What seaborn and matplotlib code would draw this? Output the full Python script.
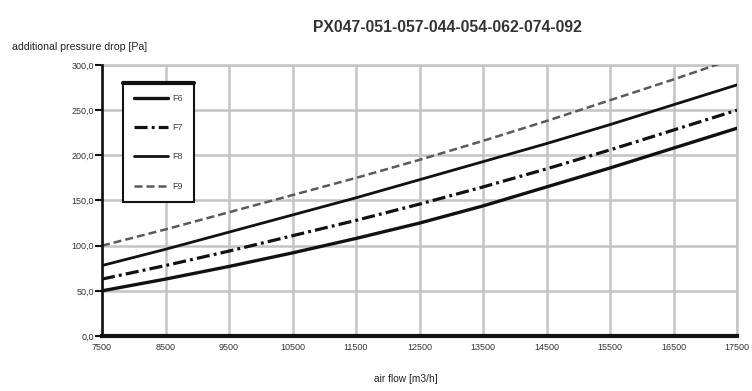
import matplotlib
matplotlib.use("Agg")
import matplotlib.pyplot as plt
import seaborn as sns
import numpy as np
from matplotlib.ticker import FuncFormatter, MultipleLocator
from matplotlib.lines import Line2D

# ---- data ----
air_flow = [7500, 8500, 9500, 10500, 11500, 12500, 13500, 14500, 15500, 16500, 17500]
f6 = [50, 63, 77, 92, 108, 125, 144, 165, 186, 208, 230]
f7 = [63, 78, 94, 111, 128, 146, 165, 185, 206, 228, 250]
f8 = [78, 96, 115, 134, 153, 173, 193, 213, 234, 256, 278]
f9 = [100, 118, 137, 156, 175, 195, 216, 238, 261, 284, 308]
series_labels = ["F6", "F7", "F8", "F9"]
x_ticks = [7500, 8500, 9500, 10500, 11500, 12500, 13500, 14500, 15500, 16500, 17500]
title = "PX047-051-057-044-054-062-074-092"
y_label = "additional pressure drop [Pa]"
x_label = "air flow [m3/h]"

sns.set_theme(style="white")
plt.rcParams['font.family'] = ['Liberation Sans', 'DejaVu Sans']

fig = plt.figure(figsize=(7.52, 3.91), dpi=100)
ax = fig.add_axes([102/752, 1-336/391, (737-102)/752, (336-65)/391])

styles = [
    dict(color="#111111", lw=2.4, ls="-"),
    dict(color="#111111", lw=2.3, ls=(0, (4.1, 1.3, 0.9, 1.3))),
    dict(color="#111111", lw=2.0, ls="-"),
    dict(color="#5a5a5a", lw=1.8, ls=(0, (3.2, 1.6))),
]
for vals, lab, st in zip([f6, f7, f8, f9], series_labels, styles):
    sns.lineplot(x=air_flow, y=vals, ax=ax, label=lab, color=st["color"],
                 linewidth=st["lw"], linestyle=st["ls"], zorder=3)

ax.set_xlim(7500, 17500)
ax.set_ylim(0, 300)
ax.set_xticks(x_ticks)
ax.yaxis.set_major_locator(MultipleLocator(50))
ax.yaxis.set_major_formatter(FuncFormatter(lambda v, p: f"{v:.1f}".replace(".", ",")))
ax.grid(True, color="#c4c4c4", linewidth=1.8, zorder=0)
ax.set_axisbelow(True)

for s in ["top", "right"]:
    ax.spines[s].set_color("#c4c4c4")
    ax.spines[s].set_linewidth(1.8)
ax.spines["left"].set_color("#111111")
ax.spines["left"].set_linewidth(1.9)
ax.spines["bottom"].set_color("#111111")
ax.spines["bottom"].set_linewidth(3.0)
ax.spines["left"].set_zorder(4)
ax.spines["bottom"].set_zorder(4)

ax.tick_params(axis="y", which="major", length=5, width=1.5, color="#111111",
               direction="out", labelsize=6.5, pad=1, labelcolor="#333333", left=True)
ax.tick_params(axis="x", which="major", length=0, labelsize=6.5, pad=5,
               labelcolor="#333333", bottom=True)

ax.set_xlabel("")
ax.set_ylabel("")
fig.text(447/752, 1-27/391, title, ha="center", va="center", fontsize=11.3,
         fontweight="bold", color="#333333")
fig.text(12/752, 1-47/391, y_label, ha="left", va="center", fontsize=7.6, color="#222222")
fig.text(406/752, 1-379/391, x_label, ha="center", va="center", fontsize=7.3, color="#222222")

leg = ax.legend(loc="upper left", bbox_to_anchor=((123-102)/635, (336-83)/271),
                borderaxespad=0, frameon=True, fancybox=False, fontsize=6.5,
                handlelength=3.8, handletextpad=0.5, labelspacing=2.25,
                borderpad=1.2, edgecolor="#111111", framealpha=1)
leg.get_frame().set_linewidth(1.5)
for t in leg.get_texts():
    t.set_color("#444444")

fig.canvas.draw()
bb = leg.get_frame().get_window_extent().transformed(fig.transFigure.inverted())
fig.add_artist(Line2D([bb.x0, bb.x1], [bb.y1, bb.y1], transform=fig.transFigure,
                      color="#111111", linewidth=3.0, zorder=10))

fig.savefig("out.png", dpi=100)
